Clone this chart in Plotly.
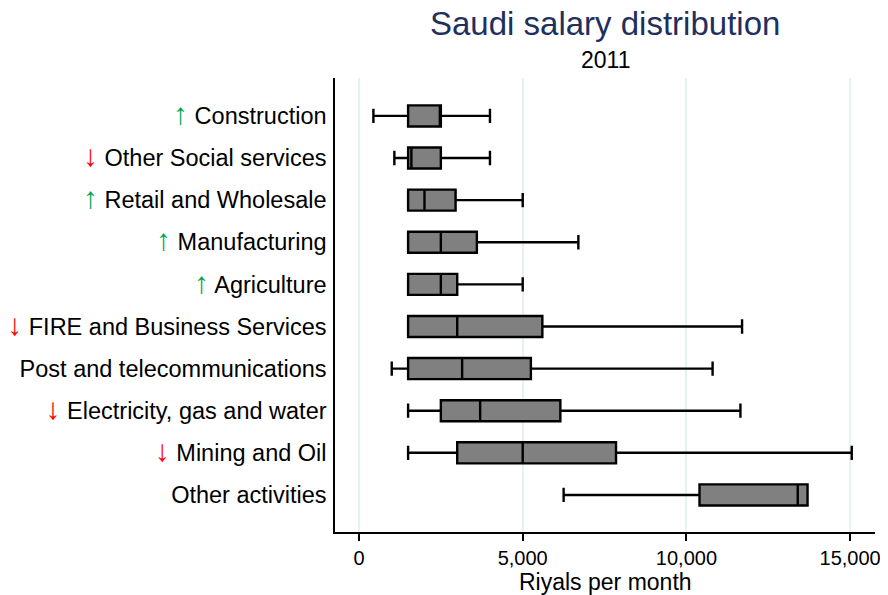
import plotly.graph_objects as go

categories = ["Construction", "Other Social services", "Retail and Wholesale",
              "Manufacturing", "Agriculture", "FIRE and Business Services",
              "Post and telecommunications", "Electricity, gas and water",
              "Mining and Oil", "Other activities"]
trend = ["up", "down", "up", "up", "up", "down", "", "down", "down", ""]
lower = [440, 1080, 1500, 1500, 1500, 1500, 1000, 1500, 1500, 6250]
q1 = [1500, 1500, 1500, 1500, 1500, 1500, 1500, 2500, 3000, 10400]
median = [2500, 1600, 2000, 2500, 2500, 3000, 3150, 3700, 5000, 13400]
q3 = [2500, 2500, 2950, 3600, 3000, 5600, 5250, 6150, 7850, 13700]
upper = [4000, 4000, 5000, 6700, 5000, 11700, 10800, 11650, 15050, 13700]
x_ticks = [0, 5000, 10000, 15000]

FONT = "Liberation Sans, Arial, Helvetica, sans-serif"
n = len(categories)
pos = [n - 1 - i for i in range(n)]

# page body has an 8px margin: figure coords = reference coords - 8
OFF = 8
W, H = 888 - OFF, 595 - OFF
L, T, R, B = 335 - OFF, 78 - OFF, 875 - OFF, 532 - OFF


def label(cat, t):
    if t == "up":
        return '<span style="color:#00a651;font-size:30px">↑</span> ' + cat
    if t == "down":
        return '<span style="color:#ff0000;font-size:30px">↓</span> ' + cat
    return cat


ticktext = [label(c, t) for c, t in zip(categories, trend)]

fig = go.Figure()
fig.add_trace(go.Box(
    y=pos, q1=q1, median=median, q3=q3,
    lowerfence=lower, upperfence=upper,
    orientation="h",
    width=0.5, whiskerwidth=0.68,
    fillcolor="#808080",
    line=dict(color="black", width=2.4),
    boxpoints=False,
    hoverinfo="skip",
    showlegend=False,
))

H_PLOT = B - T


def py(px):
    return 1 + (78 - px) / H_PLOT


fig.update_layout(
    width=W, height=H,
    margin=dict(l=L, r=W - R, t=T, b=H - B, autoexpand=False),
    paper_bgcolor="white", plot_bgcolor="white",
    font=dict(family=FONT, color="black", size=21),
    xaxis=dict(
        range=[-733, 15760], tickvals=x_ticks, tickformat=",",
        showline=True, linecolor="black", linewidth=1.5,
        ticks="outside", ticklen=7, tickwidth=1.5, tickcolor="black",
        showgrid=True, gridcolor="#e8f1f2", gridwidth=1.5,
        zeroline=False, tickfont=dict(size=20), automargin=False,
    ),
    yaxis=dict(
        range=[-0.88, 9.9], tickvals=pos, ticktext=ticktext,
        showline=True, linecolor="black", linewidth=1.5,
        showgrid=False, zeroline=False, ticks="",
        ticklabelstandoff=2, automargin=False,
        tickfont=dict(size=23.5),
    ),
    annotations=[
        dict(text="Saudi salary distribution", x=0.5, xref="paper",
             y=py(23), yref="paper", yanchor="middle", showarrow=False,
             font=dict(size=33, color="#1f2f5e", family=FONT)),
        dict(text="2011", x=0.5, xref="paper",
             y=py(60), yref="paper", yanchor="middle", showarrow=False,
             font=dict(size=23, color="black", family=FONT)),
        dict(text="Riyals per month", x=0.5, xref="paper",
             y=py(582), yref="paper", yanchor="middle", showarrow=False,
             font=dict(size=23, color="black", family=FONT)),
    ],
)

fig.write_html("out.html")
